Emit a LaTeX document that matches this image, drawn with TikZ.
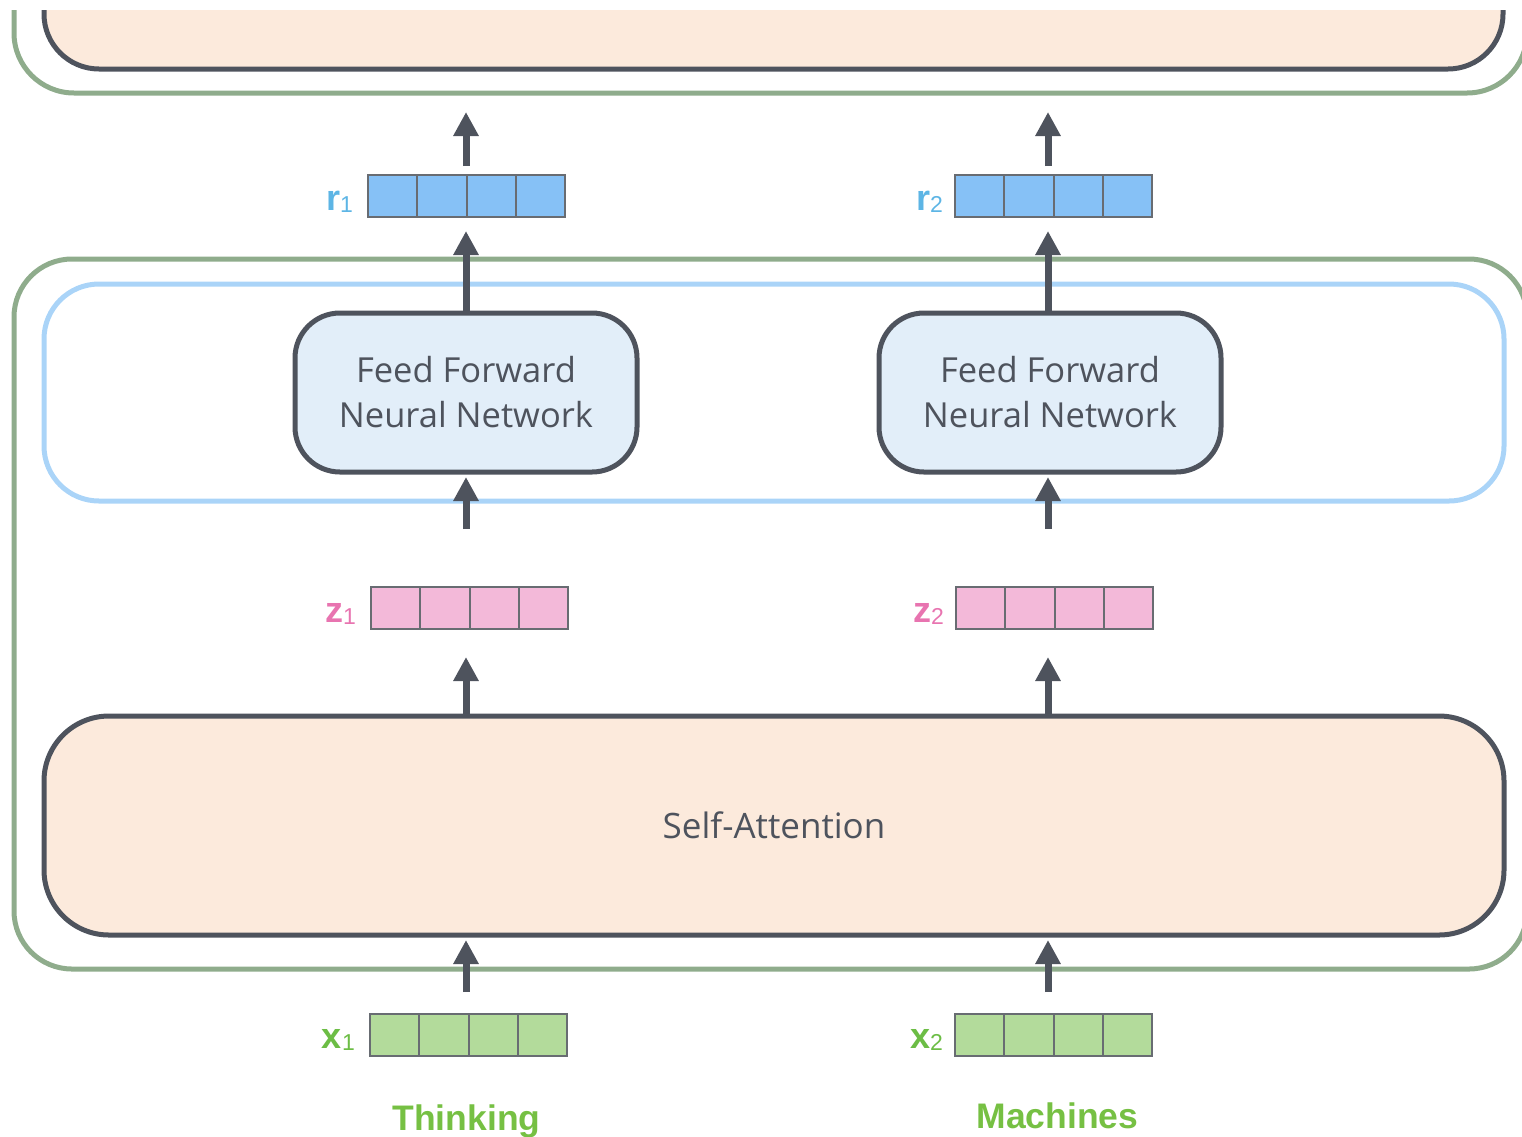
\documentclass[tikz,border=0pt]{standalone}
\usepackage{fontspec}
\setmainfont{Open Sans}
\newfontfamily\labelfont{Liberation Sans}
\usetikzlibrary{arrows.meta,calc}

\definecolor{ink}{HTML}{4E535D}
\definecolor{encgreen}{HTML}{8FAC8C}
\definecolor{ffnline}{HTML}{AAD4F8}
\definecolor{peach}{HTML}{FCEADC}
\definecolor{ffnfill}{HTML}{E2EEF9}
\definecolor{rfill}{HTML}{86C1F6}
\definecolor{rtext}{HTML}{5DB5E5}
\definecolor{zfill}{HTML}{F3B9D9}
\definecolor{ztext}{HTML}{E874B0}
\definecolor{xfill}{HTML}{B3DB9B}
\definecolor{xtext}{HTML}{6CBD45}
\definecolor{wordgreen}{HTML}{76C043}
\definecolor{cellgray}{HTML}{686C72}

% a row of four cells, placed by its top-left corner
\newcommand\vecrow[4]{%
  \node[vecbox, fill=#4, anchor=north west] (#1) at (#2,#3) {};
  \foreach \k in {1,2,3}
    \draw[cellline] ($(#1.north west)!\k/4!(#1.north east)$) -- ($(#1.south west)!\k/4!(#1.south east)$);
}
% bold letter with a subscript index
\newcommand\veclabel[3]{{\labelfont\color{#1}\fontsize{36}{36}\selectfont\bfseries #2\fontsize{23}{23}\selectfont\mdseries\raisebox{-2pt}{#3}}}

\begin{document}
\begin{tikzpicture}[x=1pt,y=-1pt,
  vecbox/.style={draw=cellgray, line width=2pt, minimum width=197pt, minimum height=42pt, inner sep=0pt, outer sep=0pt},
  cellline/.style={draw=cellgray, line width=2pt},
  veclbl/.style={anchor=base east, inner sep=0pt},
  ffnbox/.style={draw=ink, fill=ffnfill, line width=5pt, rounded corners=45pt,
    minimum width=342pt, minimum height=159pt, align=center, text=ink,
    font=\fontsize{34.5}{45}\selectfont},
  sabox/.style={draw=ink, fill=peach, line width=5pt, rounded corners=65pt,
    minimum width=1460pt, minimum height=219pt, text=ink,
    font=\fontsize{35}{40}\selectfont},
  encline/.style={draw=encgreen, line width=5pt},
  ffnlayer/.style={draw=ffnline, line width=5pt},
  word/.style={anchor=base, inner sep=0pt, text=wordgreen,
    font=\labelfont\bfseries\fontsize{35.5}{40}\selectfont},
  arr/.style={draw=ink, line width=7pt, -{Triangle[width=24pt,length=24pt]}}]

\useasboundingbox (0,0) rectangle (1522,1136);
\begin{scope}
\clip (0,10) rectangle (1522,1136);

% encoder above
\draw[encline, rounded corners=60pt] (14,-300) rectangle (1527,93);
\draw[draw=ink, line width=5pt, fill=peach, rounded corners=55pt] (44,-300) rectangle (1503,69);

% this encoder
\draw[encline, rounded corners=58pt] (14,259) rectangle (1527,969);
\draw[ffnlayer, rounded corners=55pt] (44,284) rectangle (1504,501);

\node[ffnbox] (ffn1) at (466,392.5) {Feed Forward\\Neural Network};
\node[ffnbox] (ffn2) at (1050,392.5) {Feed Forward\\Neural Network};
\node[sabox] (sa) at (774,825.5) {Self-Attention};

% vectors
\vecrow{r1}{368}{175}{rfill}
\vecrow{r2}{955}{175}{rfill}
\vecrow{z1}{371}{587}{zfill}
\vecrow{z2}{956}{587}{zfill}
\vecrow{x1}{370}{1014}{xfill}
\vecrow{x2}{955}{1014}{xfill}

\node[veclbl] (lr1) at ($(r1.west)+(-15,14)$) {\veclabel{rtext}{r}{1}};
\node[veclbl] (lr2) at ($(r2.west)+(-12,14)$) {\veclabel{rtext}{r}{2}};
\node[veclbl] (lz1) at ($(z1.west)+(-15,14)$) {\veclabel{ztext}{z}{1}};
\node[veclbl] (lz2) at ($(z2.west)+(-12,14)$) {\veclabel{ztext}{z}{2}};
\node[veclbl] (lx1) at ($(x1.west)+(-15,13)$) {\veclabel{xtext}{x}{1}};
\node[veclbl] (lx2) at ($(x2.west)+(-12,13)$) {\veclabel{xtext}{x}{2}};

\node[word] (w1) at (466.5,1130) {Thinking};
\node[word] (w2) at (1057.5,1128) {Machines};

% arrow columns
\coordinate (c1) at (466,0);
\coordinate (c2) at (1048,0);
\coordinate (top1) at (466,112);
\coordinate (top2) at (1048,112);

\foreach \i in {1,2} {
  \draw[arr] ($(x\i.north -| c\i)+(0,-22)$) -- ($(sa.south -| c\i)+(0,2.5)$);
  \draw[arr] (sa.north -| c\i) -- ($(z\i.south -| c\i)+(0,28)$);
  \draw[arr] ($(z\i.north -| c\i)+(0,-58)$) -- ($(ffn\i.south -| c\i)+(0,2.5)$);
  \draw[arr] (ffn\i.north -| c\i) -- ($(r\i.south -| c\i)+(0,14)$);
  \draw[arr] ($(r\i.north -| c\i)+(0,-9)$) -- (top\i);
}
\end{scope}
\end{tikzpicture}
\end{document}
